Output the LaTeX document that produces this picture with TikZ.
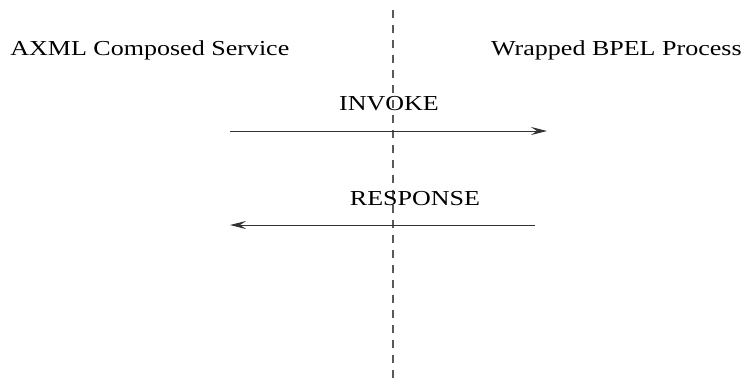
\documentclass[tikz,border=0pt]{standalone}
\usepackage{fontspec}
\setmainfont{Liberation Serif}
\usetikzlibrary{arrows.meta}
\begin{document}
\begin{tikzpicture}[x=0.75pt,y=-0.75pt,
  label/.style={inner sep=0pt,xscale=1.22,font=\fontsize{16}{19}\selectfont},
  msg/.style={line width=0.7pt,black!80,-{Stealth[length=12pt,width=6pt,inset=4.5pt]}},
  divider/.style={line width=0.9pt,black!65,dash pattern=on 6pt off 5.25pt}]
\useasboundingbox (0,0) rectangle (746,379);
% party labels
\node[label,anchor=west] (axml) at (10,50) {AXML Composed Service};
\node[label,anchor=east] (bpel) at (742,50) {Wrapped BPEL Process};
% boundary between the two parties
\coordinate (top) at (393,10);
\coordinate (bot) at (393,379);
\draw[divider] (top) -- (bot);
% messages
\coordinate (i1) at (230,131);
\coordinate (i2) at (547,131);
\coordinate (r1) at (535,225);
\coordinate (r2) at (230,225);
\draw[msg] (i1) -- (i2);
\draw[msg] (r1) -- (r2);
\node[label] (inv) at (389,104) {INVOKE};
\node[label] (resp) at (415,199) {RESPONSE};
\end{tikzpicture}
\end{document}
